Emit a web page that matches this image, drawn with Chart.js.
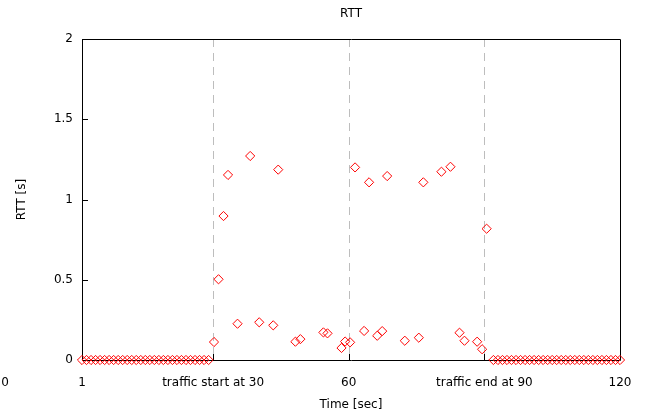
<!DOCTYPE html>
<html>
<head>
<meta charset="utf-8">
<script src="https://cdn.jsdelivr.net/npm/chart.js@4/dist/chart.umd.min.js"></script>
<style>
html,body{margin:0;padding:0;background:#fff;}
#wrap{width:651px;height:416px;}
</style>
</head>
<body>
<div id="wrap"><canvas id="c" width="651" height="416"></canvas></div>
<script>
// ---- data ----
const timeSec = [
  1,2,3,4,5,6,7,8,9,10,11,12,13,14,15,16,17,18,19,20,21,22,23,24,25,26,27,28,29,
  30.2,31.2,32.3,33.3,35.4,38.2,40.2,43.3,44.4,48.2,49.3,54.4,55.3,58.4,59.2,60.3,
  61.4,63.4,64.5,66.3,67.4,68.5,72.4,75.5,76.5,80.5,82.5,84.5,85.6,88.4,89.5,90.5,
  92,93,94,95,96,97,98,99,100,101,102,103,104,105,106,107,108,109,110,111,112,113,114,115,116,117,118,119,120
];
const rttSec = [
  0,0,0,0,0,0,0,0,0,0,0,0,0,0,0,0,0,0,0,0,0,0,0,0,0,0,0,0,0,
  0.112,0.503,0.897,1.153,0.226,1.271,0.235,0.216,1.186,0.114,0.13,0.172,0.166,0.075,0.115,0.11,
  1.2,0.181,1.107,0.151,0.18,1.146,0.12,0.139,1.107,1.173,1.204,0.17,0.12,0.114,0.067,0.818,
  0,0,0,0,0,0,0,0,0,0,0,0,0,0,0,0,0,0,0,0,0,0,0,0,0,0,0,0,0
];
const xTickValues = [1, 30, 60, 90, 120];
const xTickLabels = ['1', 'traffic start at 30', '60', 'traffic end at 90', '120'];
const markerTimes = [30, 60, 90];
const yTickValues = [0, 0.5, 1, 1.5, 2];
const yTickLabels = ['0', '0.5', '1', '1.5', '2'];
const strayXLabel = '0';

const FONT = 'DejaVu Sans';
const points = timeSec.map((t, i) => ({x: t, y: rttSec[i]}));

const framePlugin = {
  id: 'frame',
  beforeDatasetsDraw(chart) {
    const {ctx, chartArea: {left, right, top, bottom}, scales: {x, y}} = chart;
    ctx.save();
    ctx.lineWidth = 1;
    ctx.strokeStyle = '#bdbdbd';
    ctx.setLineDash([8, 6]);
    for (const v of markerTimes) {
      const px = Math.round(x.getPixelForValue(v)) + 0.5;
      ctx.beginPath(); ctx.moveTo(px, top); ctx.lineTo(px, bottom); ctx.stroke();
    }
    ctx.setLineDash([]);
    ctx.strokeStyle = '#000';
    ctx.beginPath();
    ctx.rect(Math.round(left) + 0.5, Math.round(top) + 0.5, Math.round(right - left), Math.round(bottom - top));
    ctx.stroke();
    ctx.beginPath();
    for (const t of y.ticks) {
      const py = Math.round(y.getPixelForValue(t.value)) + 0.5;
      ctx.moveTo(left, py); ctx.lineTo(left + 6, py);
    }
    for (const t of x.ticks) {
      const px = Math.round(x.getPixelForValue(t.value)) + 0.5;
      ctx.moveTo(px, bottom); ctx.lineTo(px, bottom - 6);
    }
    ctx.stroke();
    // stray tick label at the far left of the x axis
    ctx.fillStyle = '#000';
    ctx.font = '12px "' + FONT + '"';
    ctx.textAlign = 'center';
    ctx.textBaseline = 'middle';
    ctx.fillText(strayXLabel, 5, x.top + 23);
    ctx.restore();
  }
};

new Chart(document.getElementById('c'), {
  type: 'scatter',
  data: {
    datasets: [{
      data: points,
      pointStyle: 'rectRot',
      pointRadius: 4.6,
      pointHoverRadius: 4.6,
      borderColor: '#ff0000',
      backgroundColor: 'rgba(0,0,0,0)',
      pointBorderWidth: 1,
      clip: false
    }]
  },
  options: {
    responsive: false,
    animation: false,
    events: [],
    layout: {padding: {left: 0, right: 31, top: 0, bottom: 0}},
    font: {family: FONT, size: 12},
    color: '#000',
    plugins: {
      legend: {display: false},
      tooltip: {enabled: false},
      title: {
        display: true,
        text: 'RTT',
        fullSize: false,
        color: '#000',
        font: {family: FONT, size: 12, weight: 'normal'},
        padding: {top: 7, bottom: 17.6}
      }
    },
    scales: {
      x: {
        type: 'linear',
        min: 1, max: 120,
        grid: {display: false, drawTicks: false},
        border: {display: false},
        afterBuildTicks: s => { s.ticks = xTickValues.map(v => ({value: v})); },
        afterFit: s => { s.height = 56; },
        ticks: {
          autoSkip: false, maxRotation: 0, minRotation: 0,
          padding: 16, color: '#000',
          font: {family: FONT, size: 12},
          callback: (v) => { const i = xTickValues.indexOf(v); return i >= 0 ? xTickLabels[i] : ''; }
        },
        title: {display: true, text: 'Time [sec]', color: '#000', font: {family: FONT, size: 12}, padding: {top: 0, bottom: 4}}
      },
      y: {
        type: 'linear',
        min: 0, max: 2,
        grid: {display: false, drawTicks: false},
        border: {display: false},
        afterBuildTicks: s => { s.ticks = yTickValues.map(v => ({value: v})); },
        afterFit: s => { s.width = 82; },
        ticks: {
          padding: 9, color: '#000',
          font: {family: FONT, size: 12},
          callback: (v) => { const i = yTickValues.indexOf(v); return i >= 0 ? yTickLabels[i] : ''; }
        },
        title: {display: true, text: 'RTT [s]', color: '#000', font: {family: FONT, size: 12}, padding: {top: 15, bottom: 0}}
      }
    }
  },
  plugins: [framePlugin]
});
</script>
</body>
</html>
